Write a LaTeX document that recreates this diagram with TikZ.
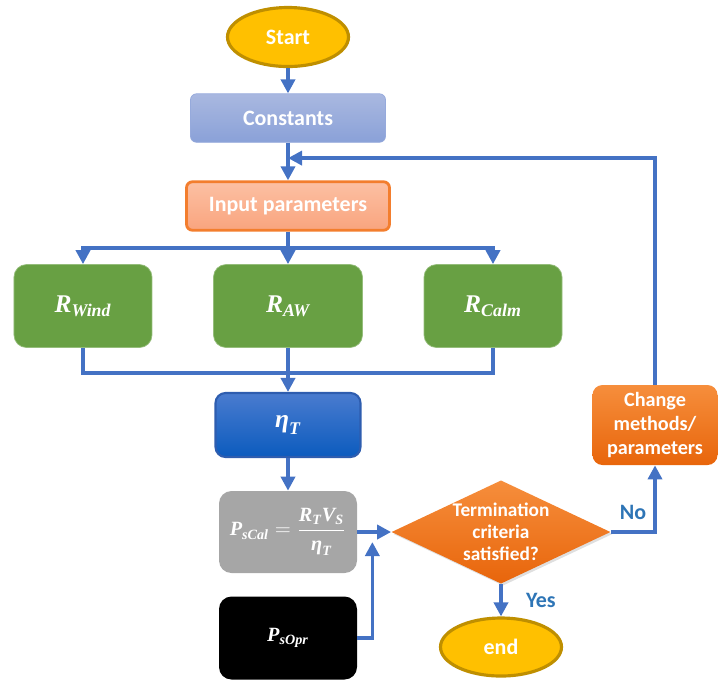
\documentclass[tikz,border=0pt]{standalone}
\usepackage{amsmath}
\usepackage{fontspec}
\setmainfont{Carlito}
\newfontfamily\tnr{Liberation Serif}
\usepackage{tikz}
\usetikzlibrary{shapes.geometric, arrows.meta, positioning, calc, shadows}
\definecolor{linkblue}{HTML}{4472C4}
\definecolor{labelblue}{HTML}{2E75B6}
\definecolor{gold}{HTML}{FFC000}
\definecolor{golddark}{HTML}{BF8F00}
\definecolor{leafgreen}{HTML}{68A043}
\definecolor{consttop}{HTML}{A9B8E0}
\definecolor{constbot}{HTML}{8AA1D8}
\definecolor{inputtop}{HTML}{FCC0A3}
\definecolor{inputbot}{HTML}{F9A47E}
\definecolor{inputline}{HTML}{F37E2E}
\definecolor{etatop}{HTML}{4A7BCF}
\definecolor{etabot}{HTML}{0B5BBE}
\definecolor{etaline}{HTML}{2E5DAF}
\definecolor{ortop}{HTML}{F68E3C}
\definecolor{orbot}{HTML}{E8650B}
\newcommand{\mvar}[1]{\text{\tnr\bfseries\itshape #1}}
\tikzstyle{startstop} = [ellipse, minimum width=2.42cm, minimum height=1.18cm, text centered, draw=golddark, line width=1.8pt, fill=gold, text=white, font=\fontsize{12.5}{14}\selectfont\bfseries]
\tikzstyle{process} = [rectangle, rounded corners=0.12cm, minimum height=0.97cm, text centered, text=white, font=\fontsize{12.5}{14}\selectfont\bfseries]
\tikzstyle{rbox} = [rectangle, rounded corners=0.25cm, minimum width=2.76cm, minimum height=1.66cm, text centered, draw=leafgreen!70!white, fill=leafgreen, text=white, font=\fontsize{14.5}{16}\selectfont]
\tikzstyle{pbox} = [rectangle, rounded corners=0.25cm, minimum width=2.76cm, minimum height=1.64cm, text centered, text=white, font=\fontsize{11.5}{13}\selectfont]
\tikzstyle{decision} = [diamond, aspect=2.12, inner sep=0pt, minimum width=4.36cm, minimum height=2.06cm, text centered, align=center, top color=ortop, bottom color=orbot, text=white, font=\fontsize{11}{12.5}\selectfont\bfseries, drop shadow={opacity=0.25, shadow xshift=0.04cm, shadow yshift=-0.04cm}]
\tikzstyle{arrow} = [line width=2.1pt, draw=linkblue, -{Triangle[length=8pt, width=8pt]}]
\tikzstyle{link} = [line width=2.1pt, draw=linkblue]
\tikzstyle{answer} = [text=labelblue, font=\fontsize{12.5}{14}\selectfont\bfseries]

\begin{document}
\begin{tikzpicture}[node distance=2cm]
  \useasboundingbox (-5.76,0.74) rectangle (8.6,-12.9);

  \node (start) [startstop] {Start};
  \node (constants) [process, below of=start, yshift=0.38cm, minimum width=3.9cm, draw=constbot!90!white, top color=consttop, bottom color=constbot] {Constants};
  \node (input) [process, below of=constants, yshift=0.24cm, minimum width=4.06cm, line width=1.6pt, draw=inputline, top color=inputtop, bottom color=inputbot] {Input parameters};
  \node (aw) [rbox, below of=input, minimum width=2.98cm] {$\mvar{R}_{\mvar{AW}}$};
  \node (wind) [rbox, left of=aw, xshift=-2.1cm] {$\mvar{R}_{\mvar{Wind}}$};
  \node (calm) [rbox, right of=aw, xshift=2.1cm] {$\mvar{R}_{\mvar{Calm}}$};
  \node (eta) [process, below of=aw, yshift=-0.38cm, minimum width=2.9cm, minimum height=1.28cm, rounded corners=0.2cm, line width=1.2pt, draw=etaline, top color=etatop, bottom color=etabot, font=\fontsize{14.5}{16}\selectfont] {$\mvar{η}_{\mvar{T}}$};
  \node (pscal) [pbox, below of=eta, yshift=-0.14cm, fill=black!35] {$\mvar{P}_{\mvar{sCal}} = \dfrac{\mvar{R}_{\mvar{T}}\mvar{V}_{\mvar{S}}}{\mvar{η}_{\mvar{T}}}$};
  \node (psopr) [pbox, below of=pscal, yshift=-0.12cm, minimum height=1.66cm, fill=black] {$\mvar{P}_{\mvar{sOpr}}$};
  \node (check) [decision, right of=pscal, xshift=2.26cm] {Termination\\criteria\\satisfied?};
  \node (end) [startstop, below of=check, yshift=-0.3cm, minimum height=1.16cm] {end};
  \node (change) [process, right of=eta, xshift=5.34cm, minimum width=2.5cm, minimum height=1.6cm, rounded corners=0.2cm, align=center, top color=ortop, bottom color=orbot, font=\fontsize{11.5}{13.5}\selectfont\bfseries] {Change\\methods/\\parameters};

  \coordinate (loop) at ($(constants.south)!0.41!(input.north)$);
  \coordinate (split) at ($(input.south)!0.5!(aw.north)$);
  \coordinate (merge) at ($(aw.south)!0.57!(eta.north)$);
  \coordinate (join) at ([xshift=0.3cm, yshift=-0.2cm]pscal.east);

  \draw [arrow] (start) -- (constants);
  \draw [arrow] (constants) -- (input);
  \draw [arrow] (input) -- (aw);
  \draw [arrow] (split) -| (wind.north);
  \draw [arrow] (split) -| (calm.north);
  \draw [link] (wind.south) |- (merge);
  \draw [link] (calm.south) |- (merge);
  \draw [arrow] (aw) -- (eta);
  \draw [arrow] (eta) -- (pscal);
  \draw [arrow] (pscal.east) -- (check.west);
  \draw [arrow] (psopr.east) -| (join);
  \draw [arrow] (check.east) -| node [answer, pos=0.25, above, yshift=0.1cm] {No} (change.south);
  \draw [arrow] (check.south) -- node [answer, midway, right=0.35cm] {Yes} (end.north);
  \draw [arrow] (change.north) |- (loop);

\end{tikzpicture}
\end{document}
